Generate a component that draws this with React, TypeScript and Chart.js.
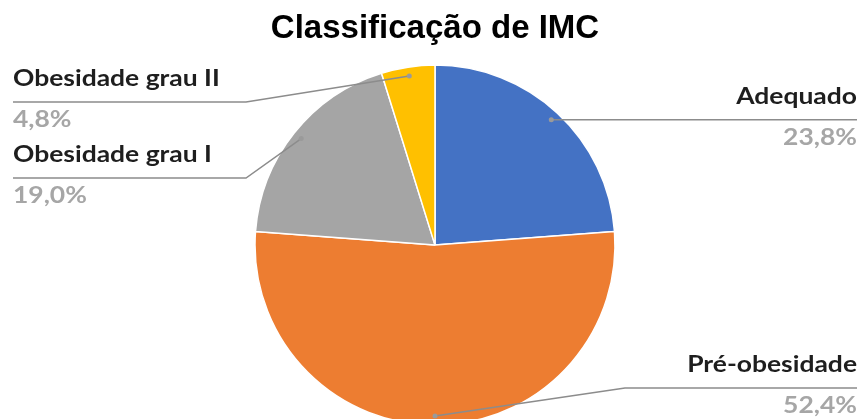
import React, { useEffect, useRef } from "react";
import { Chart, registerables } from "chart.js";

Chart.register(...registerables);

const categories = ["Adequado", "Pré-obesidade", "Obesidade grau I", "Obesidade grau II"];
const percentValues = [23.8, 52.4, 19.0, 4.8];
const sliceColors = ["#4472C4", "#ED7D31", "#A5A5A5", "#FFC000"];
const chartTitle = "Classificação de IMC";

// label placement (annotation layout, Excel-style leader lines)
const labelLayout = [
  { side: "right", elbow: null as null | { x: number; y: number } },
  { side: "right", elbow: { x: 625, y: 388 } },
  { side: "left", elbow: { x: 246, y: 178 } },
  { side: "left", elbow: { x: 246, y: 102 } },
];

const TEXT_STRETCH = 1.15;

function stretchedText(ctx: CanvasRenderingContext2D, text: string, x: number, y: number) {
  ctx.save();
  ctx.translate(x, y);
  ctx.scale(TEXT_STRETCH, 1);
  ctx.fillText(text, 0, 0);
  ctx.restore();
}

const leaderPlugin = {
  id: "leaderLabels",
  afterDatasetsDraw(chart: any) {
    const ctx = chart.ctx as CanvasRenderingContext2D;
    const meta = chart.getDatasetMeta(0);
    const data = chart.data.datasets[0].data as number[];
    const total = data.reduce((a, b) => a + b, 0);
    const leftX = 13;
    const rightX = 857;
    ctx.save();
    meta.data.forEach((arc: any, i: number) => {
      const { x, y, startAngle, endAngle, outerRadius } = arc.getProps(
        ["x", "y", "startAngle", "endAngle", "outerRadius"],
        true
      );
      const mid = (startAngle + endAngle) / 2;
      const rho = outerRadius * 0.95;
      const dx = x + Math.cos(mid) * rho;
      const dy = y + Math.sin(mid) * rho;
      const lay = labelLayout[i];
      const elbow = lay.elbow || { x: dx, y: dy };
      const endX = lay.side === "right" ? rightX : leftX;

      ctx.strokeStyle = "#8C8C8C";
      ctx.lineWidth = 1.5;
      ctx.beginPath();
      ctx.moveTo(dx, dy);
      ctx.lineTo(elbow.x, elbow.y);
      ctx.lineTo(endX, elbow.y);
      ctx.stroke();

      ctx.fillStyle = "#9A9A9A";
      ctx.beginPath();
      ctx.arc(dx, dy, 2.5, 0, Math.PI * 2);
      ctx.fill();

      ctx.textAlign = lay.side === "right" ? "right" : "left";
      ctx.textBaseline = "alphabetic";
      ctx.font = "bold 23px Lato";
      ctx.fillStyle = "#1E1E1E";
      stretchedText(ctx, categories[i], endX, elbow.y - 16);
      const pct = ((data[i] / total) * 100).toFixed(1).replace(".", ",") + "%";
      ctx.fillStyle = "#A6A6A6";
      stretchedText(ctx, pct, endX, elbow.y + 25);
    });
    ctx.restore();
  },
};

export default function App() {
  const ref = useRef<HTMLCanvasElement>(null);
  useEffect(() => {
    if (!ref.current) return;
    const chart = new Chart(ref.current, {
      type: "pie",
      data: {
        labels: categories,
        datasets: [
          {
            data: percentValues,
            backgroundColor: sliceColors,
            borderColor: "#FFFFFF",
            borderWidth: 1.5,
          },
        ],
      },
      options: {
        responsive: false,
        animation: false,
        radius: 180,
        layout: { padding: { left: 9, right: 0, top: 0, bottom: 8.4 } },
        plugins: {
          legend: { display: false },
          tooltip: { enabled: false },
          title: {
            display: true,
            text: chartTitle,
            color: "#000000",
            font: { family: "'Liberation Sans', Arial, sans-serif", size: 33, weight: "bold" },
            padding: { top: 9, bottom: 10 },
          },
        },
      } as any,
      plugins: [leaderPlugin],
    });
    return () => chart.destroy();
  }, []);
  return (
    <div
      style={{
        position: "absolute",
        left: 0,
        top: 0,
        width: 861,
        height: 419,
        overflow: "hidden",
        background: "#fff",
      }}
    >
      <canvas ref={ref} width={861} height={440} style={{ display: "block" }} />
    </div>
  );
}
